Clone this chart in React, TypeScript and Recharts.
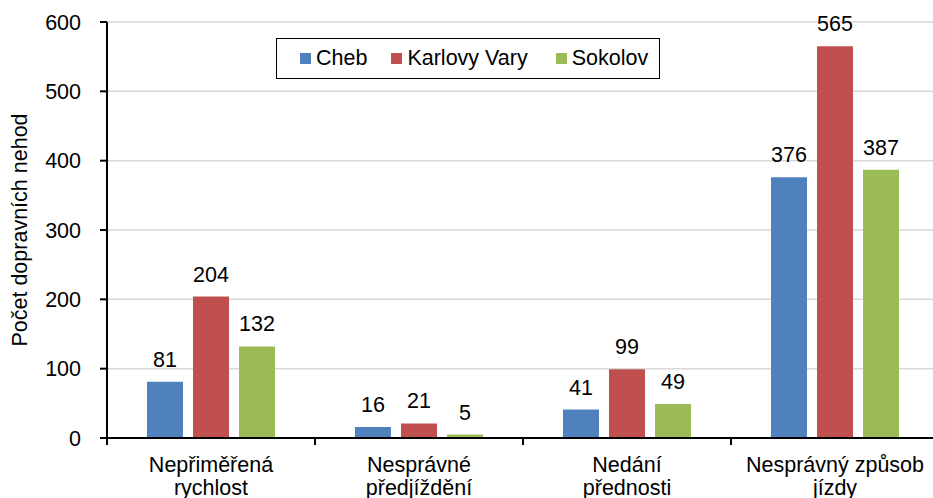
import React from "react";
import {
  BarChart,
  Bar,
  XAxis,
  YAxis,
  CartesianGrid,
  LabelList,
} from "recharts";

const categories = [
  ["Nepřiměřená", "rychlost"],
  ["Nesprávné", "předjíždění"],
  ["Nedání", "přednosti"],
  ["Nesprávný způsob", "jízdy"],
];
const cheb = [81, 16, 41, 376];
const karlovyVary = [204, 21, 99, 565];
const sokolov = [132, 5, 49, 387];
const yTicks = [0, 100, 200, 300, 400, 500, 600];

const series = [
  { key: "cheb", name: "Cheb", color: "#4F81BD" },
  { key: "kv", name: "Karlovy Vary", color: "#C0504D" },
  { key: "sokolov", name: "Sokolov", color: "#9BBB59" },
];

const data = categories.map((c, i) => ({
  name: c.join(" "),
  lines: c,
  cheb: cheb[i],
  kv: karlovyVary[i],
  sokolov: sokolov[i],
}));

const FONT = "'Liberation Sans', Arial, sans-serif";
const FS = 21.5;

const CHART_W = 940;
const CHART_H = 520;
const MARGIN = { top: 22, right: 1, left: 0, bottom: 0 };
const Y_W = 107;
const BAND = (CHART_W - MARGIN.right - MARGIN.left - Y_W) / categories.length;

function CategoryTick(props: any) {
  const { x, y, index, payload } = props;
  const lines = data[index]?.lines ?? [String(payload.value)];
  return (
    <g>
      <line x1={x - BAND / 2} y1={y} x2={x - BAND / 2} y2={y + 7} stroke="#000" strokeWidth={2} />
      {index === categories.length - 1 && (
        <line x1={x + BAND / 2} y1={y} x2={x + BAND / 2} y2={y + 7} stroke="#000" strokeWidth={2} />
      )}
      <text x={x} y={y + 34} textAnchor="middle" fontFamily={FONT} fontSize={FS} fill="#000">
        {lines.map((l: string, i: number) => (
          <tspan key={i} x={x} dy={i === 0 ? 0 : 23}>
            {l}
          </tspan>
        ))}
      </text>
    </g>
  );
}

function YTitle(props: any) {
  const { viewBox } = props;
  const cx = 20;
  const cy = viewBox.y + viewBox.height / 2;
  return (
    <text
      x={cx}
      y={cy}
      transform={`rotate(-90, ${cx}, ${cy})`}
      textAnchor="middle"
      dominantBaseline="central"
      fontFamily={FONT}
      fontSize={FS}
      fill="#000"
    >
      Počet dopravních nehod
    </text>
  );
}

export default function App() {
  return (
    <div
      style={{
        position: "fixed",
        top: 0,
        left: 0,
        width: 933,
        height: 498,
        overflow: "hidden",
        background: "#fff",
      }}
    >
      <BarChart
        width={CHART_W}
        height={CHART_H}
        data={data}
        margin={MARGIN}
        barSize={36}
        barGap={10}
      >
        <CartesianGrid vertical={false} stroke="#d9d9d9" strokeWidth={1.5} />
        <XAxis
          dataKey="name"
          height={CHART_H - 438}
          axisLine={{ stroke: "#000", strokeWidth: 2 }}
          tickLine={false}
          tickSize={0}
          tickMargin={0}
          interval={0}
          tick={CategoryTick}
        />
        <YAxis
          width={Y_W}
          domain={[0, 600]}
          ticks={yTicks}
          interval={0}
          axisLine={{ stroke: "#000", strokeWidth: 2 }}
          tickLine={{ stroke: "#000", strokeWidth: 2 }}
          tickSize={7}
          tickMargin={19}
          tick={{ fontFamily: FONT, fontSize: FS, fill: "#000" }}
          label={{ content: YTitle }}
        />
        {series.map((s) => (
          <Bar key={s.key} dataKey={s.key} name={s.name} fill={s.color} isAnimationActive={false}>
            <LabelList
              dataKey={s.key}
              position="top"
              offset={15}
              fontFamily={FONT}
              fontSize={FS}
              fill="#000"
            />
          </Bar>
        ))}
      </BarChart>
      <div
        style={{
          position: "absolute",
          left: 276,
          top: 38,
          width: 384,
          height: 41,
          boxSizing: "border-box",
          border: "1.5px solid #000",
          background: "#fff",
          display: "flex",
          alignItems: "center",
          paddingLeft: 23,
          fontFamily: FONT,
          fontSize: FS,
          color: "#000",
          whiteSpace: "nowrap",
        }}
      >
        {series.map((s, i) => (
          <div
            key={s.key}
            style={{
              display: "flex",
              alignItems: "center",
              flexShrink: 0,
              marginRight: i === 0 ? 24 : 28,
            }}
          >
            <span style={{ width: 11, height: 11, background: s.color, marginRight: 5, flexShrink: 0 }} />
            <span>{s.name}</span>
          </div>
        ))}
      </div>
    </div>
  );
}
